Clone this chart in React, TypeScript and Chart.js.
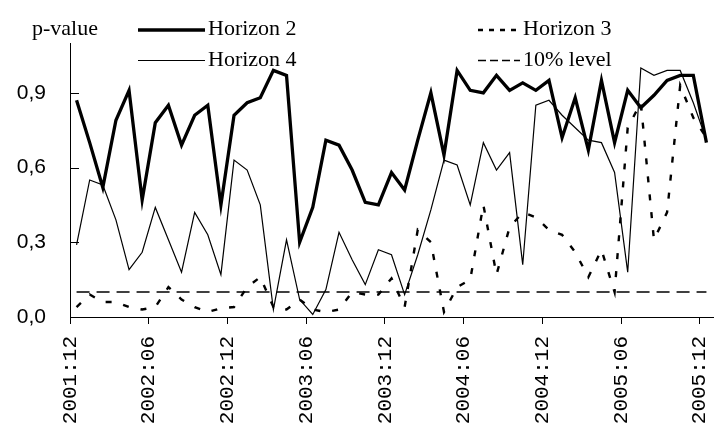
import React, { useEffect, useRef } from "react";
import { Chart, registerables } from "chart.js";

Chart.register(...registerables);

const months = [
  "2001:12",
  "2002:01","2002:02","2002:03","2002:04","2002:05","2002:06","2002:07","2002:08","2002:09","2002:10","2002:11","2002:12",
  "2003:01","2003:02","2003:03","2003:04","2003:05","2003:06","2003:07","2003:08","2003:09","2003:10","2003:11","2003:12",
  "2004:01","2004:02","2004:03","2004:04","2004:05","2004:06","2004:07","2004:08","2004:09","2004:10","2004:11","2004:12",
  "2005:01","2005:02","2005:03","2005:04","2005:05","2005:06","2005:07","2005:08","2005:09","2005:10","2005:11","2005:12",
];

const horizon2 = [
  0.87, 0.70, 0.52, 0.79, 0.91, 0.47, 0.78, 0.85, 0.69, 0.81, 0.85, 0.45, 0.81,
  0.86, 0.88, 0.99, 0.97, 0.30, 0.44, 0.71, 0.69, 0.59, 0.46, 0.45, 0.58,
  0.51, 0.71, 0.90, 0.65, 0.99, 0.91, 0.90, 0.97, 0.91, 0.94, 0.91, 0.95,
  0.72, 0.88, 0.67, 0.95, 0.70, 0.91, 0.84, 0.89, 0.95, 0.97, 0.97, 0.70,
];

const horizon3 = [
  0.04, 0.09, 0.06, 0.06, 0.04, 0.03, 0.04, 0.12, 0.07, 0.04, 0.02, 0.035, 0.04,
  0.12, 0.16, 0.04, 0.03, 0.07, 0.03, 0.02, 0.03, 0.10, 0.09, 0.09, 0.155,
  0.04, 0.35, 0.30, 0.02, 0.12, 0.15, 0.45, 0.17, 0.36, 0.42, 0.40, 0.35,
  0.33, 0.26, 0.16, 0.27, 0.10, 0.76, 0.86, 0.31, 0.42, 0.93, 0.80, 0.72,
];

const horizon4 = [
  0.29, 0.55, 0.53, 0.39, 0.19, 0.26, 0.44, 0.31, 0.18, 0.42, 0.33, 0.17, 0.63,
  0.59, 0.45, 0.03, 0.31, 0.07, 0.01, 0.11, 0.34, 0.23, 0.13, 0.27, 0.25,
  0.09, 0.25, 0.43, 0.63, 0.61, 0.45, 0.70, 0.59, 0.66, 0.21, 0.85, 0.87,
  0.81, 0.76, 0.71, 0.70, 0.58, 0.18, 1.00, 0.97, 0.99, 0.99, 0.86, 0.71,
];

const level10 = 0.1;

const xTickPositions = [0, 6, 12, 18, 24, 30, 36, 42, 48];
const xTickLabels = ["2001:12", "2002:06", "2002:12", "2003:06", "2003:12", "2004:06", "2004:12", "2005:06", "2005:12"];
const yTickValues = [0, 0.3, 0.6, 0.9];
const yTickLabels = ["0,0", "0,3", "0,6", "0,9"];

const xTickFont = "'Liberation Mono', 'DejaVu Sans Mono', monospace";
const yTickFont = "'Liberation Sans', 'DejaVu Sans', sans-serif";
const legendFont = "'Liberation Serif', 'DejaVu Serif', serif";

export default function App() {
  const ref = useRef<HTMLCanvasElement>(null);

  useEffect(() => {
    const canvas = ref.current;
    if (!canvas) return;
    const toXY = (arr: number[]) => arr.map((v, i) => ({ x: i + 0.5, y: v }));
    const innerTicks = {
      id: "innerTicks",
      afterDraw(chart: any) {
        const { ctx, chartArea, scales } = chart;
        const y = scales.y;
        ctx.save();
        ctx.strokeStyle = "#000";
        ctx.lineWidth = 1;
        ctx.beginPath();
        for (const v of yTickValues) {
          if (v === 0) continue;
          const py = Math.round(y.getPixelForValue(v)) + 0.5;
          ctx.moveTo(chartArea.left, py);
          ctx.lineTo(chartArea.left + 9, py);
        }
        ctx.stroke();
        ctx.restore();
      },
    };
    const chart = new Chart(canvas, {
      type: "line",
      data: {
        datasets: [
          {
            label: "10% level",
            data: months.map((_, i) => ({ x: i + 0.5, y: level10 })),
            borderColor: "#000",
            borderWidth: 1.5,
            borderDash: [13, 7],
            pointRadius: 0,
            tension: 0,
          },
          {
            label: "Horizon 4",
            data: toXY(horizon4),
            borderColor: "#000",
            borderWidth: 1.2,
            pointRadius: 0,
            tension: 0,
          },
          {
            label: "Horizon 3",
            data: toXY(horizon3),
            borderColor: "#000",
            borderWidth: 2.4,
            borderDash: [6, 12],
            pointRadius: 0,
            tension: 0,
          },
          {
            label: "Horizon 2",
            data: toXY(horizon2),
            borderColor: "#000",
            borderWidth: 3.3,
            pointRadius: 0,
            tension: 0,
          },
        ],
      },
      options: {
        responsive: false,
        animation: false,
        events: [],
        layout: { padding: { top: 43, right: 6, left: 0, bottom: 0 } },
        plugins: { legend: { display: false }, tooltip: { enabled: false } },
        scales: {
          x: {
            type: "linear",
            min: 0,
            max: 49,
            afterBuildTicks: (s: any) => {
              s.ticks = xTickPositions.map((v) => ({ value: v }));
            },
            afterFit: (s: any) => {
              s.height = 112;
              s.paddingLeft = 0;
              s.paddingRight = 0;
            },
            ticks: {
              autoSkip: false,
              maxRotation: 90,
              minRotation: 90,
              padding: 12,
              color: "#000",
              font: { family: xTickFont, size: 21 },
              callback: (v: any) => {
                const k = xTickPositions.indexOf(Number(v));
                return k >= 0 ? xTickLabels[k] : "";
              },
            },
            grid: { display: true, drawOnChartArea: false, drawTicks: true, tickLength: 7, color: "#000", lineWidth: 1 },
            border: { display: true, color: "#000", width: 1 },
          },
          y: {
            min: 0,
            max: 1.1,
            afterBuildTicks: (s: any) => {
              s.ticks = yTickValues.map((v) => ({ value: v }));
            },
            afterFit: (s: any) => {
              s.width = 70;
              s.paddingTop = 0;
              s.paddingBottom = 0;
            },
            ticks: {
              padding: 24,
              color: "#000",
              font: { family: yTickFont, size: 21 },
              callback: (v: any) => {
                const k = yTickValues.findIndex((t) => Math.abs(t - Number(v)) < 1e-9);
                return k >= 0 ? yTickLabels[k] : "";
              },
            },
            grid: { display: false, drawTicks: false },
            border: { display: true, color: "#000", width: 1 },
          },
        },
      },
      plugins: [innerTicks],
    } as any);
    return () => chart.destroy();
  }, []);

  const textStyle: React.CSSProperties = {
    position: "absolute",
    fontFamily: legendFont,
    fontSize: 22,
    lineHeight: "24px",
    color: "#000",
    whiteSpace: "nowrap",
  };

  return (
    <div style={{ position: "fixed", left: 0, top: 0, width: 719, height: 429, background: "#fff" }}>
      <canvas ref={ref} width={719} height={429} style={{ position: "absolute", left: 0, top: 0, width: 719, height: 429 }} />
      <svg width={719} height={80} style={{ position: "absolute", left: 0, top: 0 }}>
        <line x1={138} y1={30} x2={205} y2={30} stroke="#000" strokeWidth={3.3} />
        <line x1={138} y1={60.5} x2={205} y2={60.5} stroke="#000" strokeWidth={1.2} />
        <line x1={478} y1={30} x2={520} y2={30} stroke="#000" strokeWidth={2.4} strokeDasharray="5 6" />
        <line x1={478} y1={60.5} x2={520} y2={60.5} stroke="#000" strokeWidth={1.5} strokeDasharray="8 4" />
      </svg>
      <div style={{ ...textStyle, left: 32, top: 16 }}>p-value</div>
      <div style={{ ...textStyle, left: 208, top: 16 }}>Horizon 2</div>
      <div style={{ ...textStyle, left: 208, top: 47 }}>Horizon 4</div>
      <div style={{ ...textStyle, left: 523, top: 16 }}>Horizon 3</div>
      <div style={{ ...textStyle, left: 523, top: 47 }}>10% level</div>
    </div>
  );
}
